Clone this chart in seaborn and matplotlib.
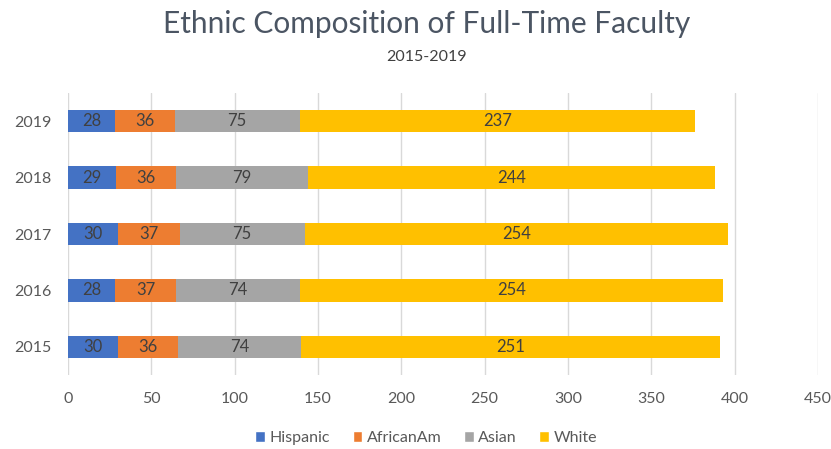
import matplotlib
matplotlib.use("Agg")
import matplotlib.pyplot as plt
import seaborn as sns
import pandas as pd
import numpy as np
from matplotlib.patches import Patch

years = ["2019", "2018", "2017", "2016", "2015"]
hispanic = [28, 29, 30, 28, 30]
african_am = [36, 36, 37, 37, 36]
asian = [75, 79, 75, 74, 74]
white = [237, 244, 254, 254, 251]

series_names = ["Hispanic", "AfricanAm", "Asian", "White"]
series_vals = [hispanic, african_am, asian, white]
colors = ["#4472C4", "#ED7D31", "#A5A5A5", "#FFC000"]

sns.set_theme(style="white")
plt.rcParams["font.family"] = ["Lato", "DejaVu Sans"]

fig = plt.figure(figsize=(8.31, 4.49), dpi=100)
ax = fig.add_axes([68 / 831, 1 - 375 / 449, 750 / 831, 282 / 449])

vals = np.array(series_vals, dtype=float)
cum = np.cumsum(vals, axis=0)
starts = cum - vals

# Stacked bars: draw running totals from the outermost segment inward
for i in range(len(series_names) - 1, -1, -1):
    df = pd.DataFrame({"year": years, "total": cum[i]})
    sns.barplot(data=df, x="total", y="year", order=years, orient="h",
                color=colors[i], width=0.4, saturation=1, linewidth=0,
                edgecolor="none", ax=ax, zorder=3)

# Segment value labels
for i in range(len(series_names)):
    for j in range(len(years)):
        ax.text(starts[i, j] + vals[i, j] / 2, j, f"{int(vals[i, j])}",
                ha="center", va="center", fontsize=12, color="#404040", zorder=4)

ax.set_xlim(0, 450)
ax.set_ylim(4.5, -0.5)
ax.set_xticks(np.arange(0, 451, 50))
ax.xaxis.grid(True, color="#D9D9D9", linewidth=1, zorder=0)
ax.set_axisbelow(True)
for s in ax.spines.values():
    s.set_visible(False)
ax.set_xlabel("")
ax.set_ylabel("")
ax.tick_params(axis="x", labelsize=11.5, labelcolor="#595959", pad=12, length=0)
ax.tick_params(axis="y", labelsize=11.5, labelcolor="#595959", pad=12, length=0)

fig.text(0.513, 0.947, "Ethnic Composition of Full-Time Faculty", ha="center",
         va="center", fontsize=21.5, color="#4B5563")
fig.text(0.513, 0.873, "2015-2019", ha="center", va="center",
         fontsize=11.5, color="#404040")

handles = [Patch(facecolor=c, label=n) for n, c in zip(series_names, colors)]
fig.legend(handles=handles, loc="center", bbox_to_anchor=(0.513, 0.024), ncol=4,
           frameon=False, fontsize=11.5, handlelength=0.6, handleheight=0.7,
           handletextpad=0.3, columnspacing=1.4, labelcolor="#595959")

fig.savefig("out.png", dpi=100)
